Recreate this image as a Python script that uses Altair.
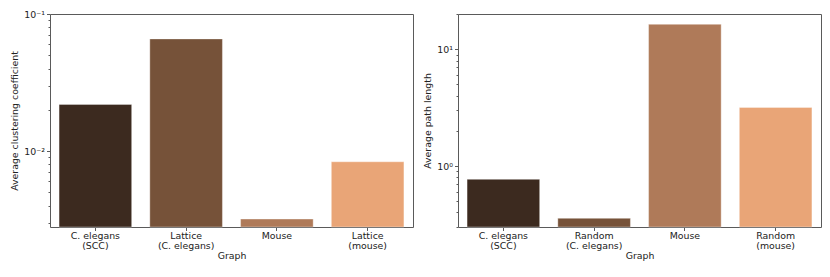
import altair as alt
import pandas as pd

# Left panel: clustering coefficient
cc_graphs = ["C. elegans|(SCC)", "Lattice|(C. elegans)", "Mouse", "Lattice|(mouse)"]
cc_values = [0.0219, 0.0658, 0.00319, 0.00835]

# Right panel: path length
pl_graphs = ["C. elegans|(SCC)", "Random|(C. elegans)", "Mouse", "Random|(mouse)"]
pl_values = [0.769, 0.356, 16.4, 3.18]

colors = ["#3c2a1f", "#765239", "#af7a59", "#e9a577"]

cc_ticks = [0.003, 0.004, 0.005, 0.006, 0.007, 0.008, 0.009, 0.01,
            0.02, 0.03, 0.04, 0.05, 0.06, 0.07, 0.08, 0.09, 0.1]
pl_ticks = [0.3, 0.4, 0.5, 0.6, 0.7, 0.8, 0.9, 1, 2, 3, 4, 5, 6, 7, 8, 9, 10, 20]

FONT = "DejaVu Sans"
TXT = "#222222"
FRAME = "#5a5a5a"
FS = 9.4

decade_test = "abs(log(datum.value)/LN10 - round(log(datum.value)/LN10)) < 1e-6"
label_expr = ("datum.value >= 0.099 && datum.value <= 0.101 ? '10⁻¹' : "
              "datum.value >= 0.0099 && datum.value <= 0.0101 ? '10⁻²' : "
              "datum.value >= 0.99 && datum.value <= 1.01 ? '10⁰' : "
              "datum.value >= 9.9 && datum.value <= 10.1 ? '10¹' : ''")


def panel(graphs, values, ytitle, domain, ticks):
    df = pd.DataFrame({"graph": graphs, "amount": values, "shade": colors})
    return alt.Chart(df).mark_bar(stroke="#ffffff", strokeWidth=0.6, strokeOpacity=0.6).encode(
        x=alt.X("graph:N", sort=graphs, title="Graph",
                scale=alt.Scale(paddingInner=0.2, paddingOuter=0.1),
                axis=alt.Axis(labelAngle=0, labelExpr="split(datum.label, '|')",
                              labelFont=FONT, labelFontSize=FS, labelColor=TXT,
                              titleFont=FONT, titleFontSize=FS, titleFontWeight="normal",
                              titleColor=TXT, tickColor=FRAME, tickSize=3.5,
                              domain=False, labelPadding=1, titlePadding=2,
                              labelLineHeight=10)),
        y=alt.Y("amount:Q", title=ytitle, stack=None,
                scale=alt.Scale(type="log", domain=domain, nice=False),
                axis=alt.Axis(values=ticks, labelExpr=label_expr,
                              tickSize={"condition": {"test": decade_test, "value": 3.5}, "value": 2},
                              labelFont=FONT, labelFontSize=FS, labelColor=TXT,
                              titleFont=FONT, titleFontSize=FS, titleFontWeight="normal",
                              titleColor=TXT, tickColor=FRAME, domain=False, grid=False,
                              labelPadding=2, titlePadding=4)),
        fill=alt.Fill("shade:N", scale=None),
    ).properties(width=363, height=213)


left = panel(cc_graphs, cc_values, "Average clustering coefficient", [0.00279, 0.1], cc_ticks)
right = panel(pl_graphs, pl_values, "Average path length", [0.30, 20.1], pl_ticks)

chart = alt.hconcat(left, right, spacing=8).properties(
    padding={"left": 1, "top": 0, "right": 0, "bottom": 0}
).configure(
    background="white"
).configure_view(stroke=FRAME, strokeWidth=1)

chart.save("out.html", embed_options={"renderer": "svg", "actions": False})
